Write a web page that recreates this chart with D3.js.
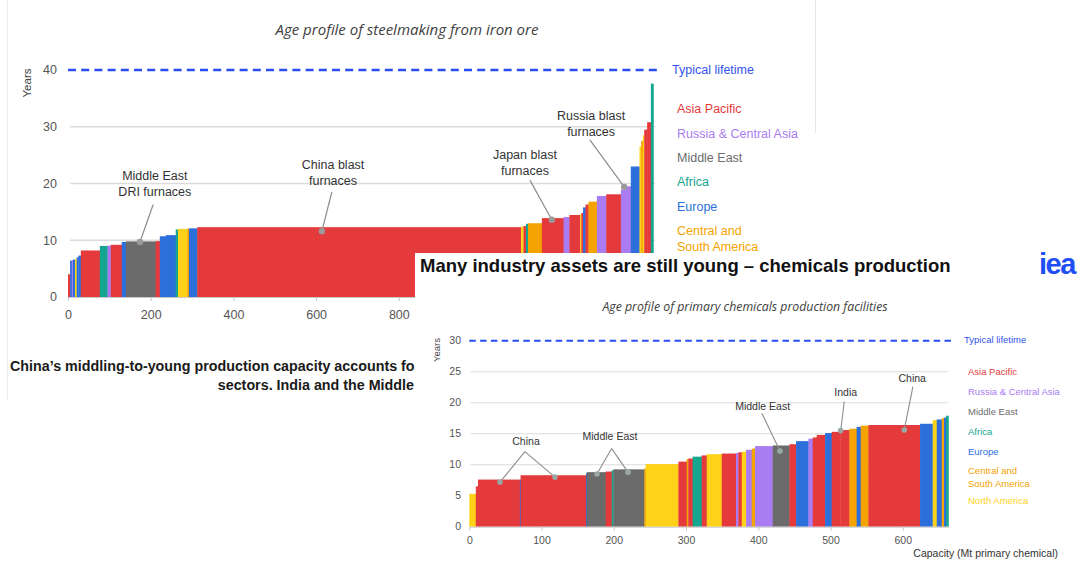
<!DOCTYPE html>
<html>
<head>
<meta charset="utf-8">
<script src="https://cdn.jsdelivr.net/npm/d3@7"></script>
<style>
  html, body { margin: 0; padding: 0; background: #ffffff; }
  svg { display: block; }
  text { font-family: "Liberation Sans", Arial, sans-serif; }
</style>
</head>
<body>
<svg id="page" width="1083" height="562"></svg>
<script>
// Regions shared by both age profiles
const regionNames = ["Asia Pacific", "Russia & Central Asia", "Middle East", "Africa", "Europe", "Central and South America", "North America"];
const regionColors = ["#e53a3c", "#a97cf2", "#6b6b6b", "#14a68e", "#2c6fdb", "#f5a300", "#ffd21a"];

// Steelmaking from iron ore: one entry per plant group, sorted by age
// region index, capacity (Mt), age (years)
const steelRegion = [0, 4, 1, 4, 6, 4, 4, 0, 3, 1, 0, 4, 2, 0, 4, 4, 3, 6, 5, 4, 0, 6, 0, 3, 5, 0, 1, 0, 6, 0, 4, 0, 5, 1, 0, 1, 1, 4, 6, 5, 6, 0, 0, 3];
const steelCapacity = [5, 4, 3, 5, 4, 4, 6, 46, 18.5, 8, 26.5, 10, 72, 10, 14.5, 24, 5.5, 22.5, 4, 20, 783, 6, 6, 5, 33.5, 52.5, 14, 26, 3, 4, 6, 7, 20.5, 22.5, 35.5, 12, 12, 21, 4, 4, 3.5, 7, 9, 6];
const steelAge = [4.0, 6.4, 6.5, 6.6, 6.7, 7.0, 7.3, 8.2, 9.0, 9.05, 9.2, 9.7, 9.8, 9.85, 10.7, 10.9, 11.9, 12.0, 12.05, 12.1, 12.3, 12.4, 12.5, 12.9, 13.0, 13.9, 14.1, 14.45, 14.6, 14.8, 15.8, 16.3, 16.8, 17.8, 18.1, 18.9, 19.5, 23.0, 26.5, 27.5, 28.5, 29.5, 30.8, 37.6];
const steelLifetime = 40;
const steelYTicks = [0, 10, 20, 30, 40];
const steelXTicks = [0, 200, 400, 600, 800];
const steelLegend = [0, 1, 2, 3, 4, 5];
// annotation: label lines, label anchor (capacity, age), leader start and labelled point
const steelNotes = [
  { lines: ["Middle East", "DRI furnaces"], at: [210, 21.3], from: [206, 16.3], to: [174, 9.7] },
  { lines: ["China blast", "furnaces"], at: [641, 23.3], from: [638, 18.5], to: [614, 11.6] },
  { lines: ["Japan blast", "furnaces"], at: [1105, 25.1], from: [1117, 20.6], to: [1170, 13.6] },
  { lines: ["Russia blast", "furnaces"], at: [1265, 31.9], from: [1262, 27.7], to: [1345, 19.4] }
];

// Primary chemicals production facilities, sorted by age
const chemRegion = [6, 0, 0, 4, 0, 4, 2, 0, 3, 2, 5, 6, 0, 5, 0, 3, 0, 6, 0, 1, 0, 6, 1, 5, 1, 2, 0, 4, 1, 0, 0, 4, 0, 0, 5, 4, 5, 0, 4, 6, 4, 5, 4, 3];
const chemCapacity = [9, 3, 58, 1, 90.5, 1, 26.3, 8.3, 2.3, 42.9, 1.8, 45.3, 11.5, 2.2, 6, 12.6, 6.9, 20.8, 19.7, 3.3, 4.7, 6, 7.8, 4.6, 24.5, 23.1, 9.2, 17.1, 5.9, 5.6, 11.5, 9.2, 12, 12.5, 10, 5.7, 10.6, 71.5, 17.5, 5.6, 6.9, 3.2, 2.8, 3.2];
const chemAge = [5.3, 6.5, 7.6, 7.6, 8.3, 8.6, 8.8, 8.9, 9.1, 9.25, 9.4, 10.1, 10.5, 10.9, 11.0, 11.3, 11.5, 11.7, 11.8, 11.9, 12.0, 12.1, 12.4, 12.6, 13.0, 13.1, 13.3, 13.8, 14.2, 14.4, 14.8, 15.1, 15.3, 15.6, 15.8, 16.1, 16.3, 16.4, 16.6, 17.2, 17.3, 17.5, 17.6, 17.9];
const chemLifetime = 30;
const chemYTicks = [0, 5, 10, 15, 20, 25, 30];
const chemXTicks = [0, 100, 200, 300, 400, 500, 600];
const chemLegend = [0, 1, 2, 3, 4, 5, 6];
const chemNotes = [
  { lines: ["China"], at: [78.5, 13.8], from: [77, 12.1], to: [[42.5, 7.2], [118.6, 8.0]] },
  { lines: ["Middle East"], at: [194.7, 14.6], from: [197, 12.6], to: [[176.7, 8.5], [219.7, 8.8]] },
  { lines: ["Middle East"], at: [406, 19.4], from: [405, 18.3], to: [[430, 12.2]] },
  { lines: ["India"], at: [521, 21.7], from: [519, 20.2], to: [[514, 15.5]] },
  { lines: ["China"], at: [613, 23.9], from: [614, 22.6], to: [[602, 15.6]] }
];

const svg = d3.select("#page");

function segments(regions, caps, ages) {
  const ends = d3.cumsum(caps);
  return caps.map((c, i) => ({ region: regions[i], x0: ends[i] - c, x1: ends[i], age: ages[i] }));
}

// ---------- Steel slide (background) ----------
const steel = svg.append("g");
steel.append("line").attr("x1", 7.5).attr("x2", 7.5).attr("y1", 0).attr("y2", 400)
  .attr("stroke", "#ececec").attr("stroke-width", 1);
steel.append("line").attr("x1", 815.5).attr("x2", 815.5).attr("y1", 0).attr("y2", 133)
  .attr("stroke", "#e6e6e6").attr("stroke-width", 1);

const sx = d3.scaleLinear().domain([0, 1420]).range([68, 655.2]);
const sy = d3.scaleLinear().domain([0, 40]).range([297, 70]);

steel.append("text").attr("x", 407).attr("y", 35).attr("text-anchor", "middle")
  .style("font-family", "'Open Sans', Lato, sans-serif").style("font-style", "italic")
  .style("font-size", "15px").attr("fill", "#404040")
  .text("Age profile of steelmaking from iron ore");

// gridlines
steel.append("g").selectAll("line").data(steelYTicks.filter(t => t > 0 && t < steelLifetime))
  .join("line")
  .attr("x1", sx(0) + 2).attr("x2", sx(1420)).attr("y1", d => sy(d)).attr("y2", d => sy(d))
  .attr("stroke", "#dcdcdc").attr("stroke-width", 1.3);

// y tick labels
steel.append("g").selectAll("text").data(steelYTicks).join("text")
  .attr("x", 57).attr("y", d => sy(d)).attr("dy", "0.35em").attr("text-anchor", "end")
  .style("font-size", "12.5px").attr("fill", "#555").text(d => d);

steel.append("text").attr("transform", `translate(31,${83}) rotate(-90)`)
  .attr("text-anchor", "middle").style("font-size", "11.5px").attr("fill", "#444").text("Years");

// step bars
steel.append("g").selectAll("rect").data(segments(steelRegion, steelCapacity, steelAge)).join("rect")
  .attr("x", d => sx(d.x0)).attr("width", d => Math.max(0.6, sx(d.x1) - sx(d.x0) + 0.4))
  .attr("y", d => sy(d.age)).attr("height", d => sy(0) - sy(d.age))
  .attr("fill", d => regionColors[d.region]);

// x axis
const sAxis = steel.append("g").attr("transform", `translate(0,${sy(0)})`)
  .call(d3.axisBottom(sx).tickValues(steelXTicks).tickSize(4).tickSizeOuter(0).tickPadding(9));
sAxis.select(".domain").attr("stroke", "#c8c8c8");
sAxis.selectAll(".tick line").attr("stroke", "#c8c8c8");
sAxis.selectAll(".tick text").style("font-size", "12.5px").attr("fill", "#555")
  .style("font-family", "'Liberation Sans', Arial, sans-serif");

// typical lifetime
steel.append("line").attr("x1", sx(0)).attr("x2", 658).attr("y1", sy(steelLifetime)).attr("y2", sy(steelLifetime))
  .attr("stroke", "#2a4df2").attr("stroke-width", 2.6).attr("stroke-dasharray", "8,5.2");
steel.append("text").attr("x", 672).attr("y", sy(steelLifetime)).attr("dy", "0.3em")
  .style("font-size", "12.5px").attr("fill", "#3354ee").text("Typical lifetime");

// annotations
const sNote = steel.append("g").selectAll("g").data(steelNotes).join("g");
sNote.append("line")
  .attr("x1", d => sx(d.from[0])).attr("y1", d => sy(d.from[1]))
  .attr("x2", d => sx(d.to[0])).attr("y2", d => sy(d.to[1]))
  .attr("stroke", "#8c8c8c").attr("stroke-width", 1.2);
sNote.append("circle").attr("cx", d => sx(d.to[0])).attr("cy", d => sy(d.to[1])).attr("r", 3.2)
  .attr("fill", "#9a9a9a");
sNote.each(function (d) {
  d3.select(this).selectAll("text").data(d.lines).join("text")
    .attr("x", sx(d.at[0])).attr("y", (l, i) => sy(d.at[1]) + i * 16).attr("dy", "0.35em")
    .attr("text-anchor", "middle").style("font-size", "12.5px").attr("fill", "#333").text(l => l);
});

// legend
const sLeg = steel.append("g").selectAll("text").data(steelLegend).join("text")
  .attr("x", 677).attr("y", (d, i) => 109 + i * 24.3).attr("dy", "0.35em")
  .style("font-size", "12.5px").attr("fill", d => regionColors[d]);
sLeg.each(function (d) {
  const t = d3.select(this);
  if (regionNames[d] === "Central and South America") {
    t.append("tspan").attr("x", 677).text("Central and");
    t.append("tspan").attr("x", 677).attr("dy", "16").text("South America");
  } else {
    t.text(regionNames[d]);
  }
});

// slide text below the steel chart
steel.append("text").attr("x", 10).attr("y", 371).style("font-size", "14.3px").style("font-weight", "bold")
  .attr("fill", "#1a1a1a").text("China\u2019s middling-to-young production capacity accounts fo");
steel.append("text").attr("x", 414).attr("y", 390).attr("text-anchor", "end").style("font-size", "14.3px")
  .style("font-weight", "bold").attr("fill", "#1a1a1a").text("sectors. India and the Middle");

// ---------- Chemicals slide (foreground) ----------
const chem = svg.append("g");
chem.append("rect").attr("x", 415).attr("y", 253).attr("width", 668).attr("height", 309).attr("fill", "#ffffff");

chem.append("text").attr("x", 420).attr("y", 272).style("font-size", "18.5px").style("font-weight", "bold")
  .attr("fill", "#111").text("Many industry assets are still young \u2013 chemicals production");
chem.append("text").attr("x", 1039).attr("y", 274).style("font-size", "29px").style("font-weight", "bold")
  .style("letter-spacing", "-1.5px").attr("fill", "#1d4ff5").text("iea");

const cx = d3.scaleLinear().domain([0, 663]).range([469.3, 948.3]);
const cy = d3.scaleLinear().domain([0, 30]).range([526.7, 340.7]);

chem.append("text").attr("x", 745).attr("y", 311).attr("text-anchor", "middle")
  .style("font-family", "'Open Sans', Lato, sans-serif").style("font-style", "italic")
  .style("font-size", "12.3px").attr("fill", "#404040")
  .text("Age profile of primary chemicals production facilities");

chem.append("g").selectAll("line").data(chemYTicks.filter(t => t > 0 && t < chemLifetime)).join("line")
  .attr("x1", cx(0) + 1).attr("x2", cx(663)).attr("y1", d => cy(d)).attr("y2", d => cy(d))
  .attr("stroke", "#dcdcdc").attr("stroke-width", 1.1);

chem.append("g").selectAll("text").data(chemYTicks).join("text")
  .attr("x", 461).attr("y", d => cy(d)).attr("dy", "0.35em").attr("text-anchor", "end")
  .style("font-size", "10.5px").attr("fill", "#555").text(d => d);

chem.append("text").attr("transform", `translate(440,350) rotate(-90)`).attr("text-anchor", "middle")
  .style("font-size", "9.5px").attr("fill", "#444").text("Years");

chem.append("g").selectAll("rect").data(segments(chemRegion, chemCapacity, chemAge)).join("rect")
  .attr("x", d => cx(d.x0)).attr("width", d => Math.max(0.6, cx(d.x1) - cx(d.x0) + 0.4))
  .attr("y", d => cy(d.age)).attr("height", d => cy(0) - cy(d.age))
  .attr("fill", d => regionColors[d.region]);

const cAxis = chem.append("g").attr("transform", `translate(0,${cy(0)})`)
  .call(d3.axisBottom(cx).tickValues(chemXTicks).tickSize(4).tickSizeOuter(0).tickPadding(6));
cAxis.select(".domain").attr("stroke", "#c8c8c8");
cAxis.selectAll(".tick line").attr("stroke", "#c8c8c8");
cAxis.selectAll(".tick text").style("font-size", "10.5px").attr("fill", "#555")
  .style("font-family", "'Liberation Sans', Arial, sans-serif");

chem.append("text").attr("x", 1058).attr("y", 557).attr("text-anchor", "end").style("font-size", "10.5px")
  .attr("fill", "#333").text("Capacity (Mt primary chemical)");

chem.append("line").attr("x1", cx(0)).attr("x2", 953).attr("y1", cy(chemLifetime)).attr("y2", cy(chemLifetime))
  .attr("stroke", "#2a4df2").attr("stroke-width", 2).attr("stroke-dasharray", "6.5,4.3");
chem.append("text").attr("x", 964).attr("y", cy(chemLifetime) - 1).attr("dy", "0.3em")
  .style("font-size", "9.5px").attr("fill", "#3354ee").text("Typical lifetime");

const cNote = chem.append("g").selectAll("g").data(chemNotes).join("g");
cNote.each(function (d) {
  const g = d3.select(this);
  g.selectAll("line").data(d.to).join("line")
    .attr("x1", cx(d.from[0])).attr("y1", cy(d.from[1]))
    .attr("x2", p => cx(p[0])).attr("y2", p => cy(p[1]))
    .attr("stroke", "#8c8c8c").attr("stroke-width", 1.1);
  g.selectAll("circle").data(d.to).join("circle")
    .attr("cx", p => cx(p[0])).attr("cy", p => cy(p[1])).attr("r", 2.8).attr("fill", "#9aa8a4");
  g.append("text").attr("x", cx(d.at[0])).attr("y", cy(d.at[1])).attr("dy", "0.35em")
    .attr("text-anchor", "middle").style("font-size", "10.5px").attr("fill", "#333").text(d.lines[0]);
});

const cLeg = chem.append("g").selectAll("text").data(chemLegend).join("text")
  .attr("x", 968).attr("y", (d, i) => 372 + i * 19.8 + (i === 6 ? 10 : 0)).attr("dy", "0.35em")
  .style("font-size", "9.5px").attr("fill", d => regionColors[d]);
cLeg.each(function (d) {
  const t = d3.select(this);
  if (regionNames[d] === "Central and South America") {
    t.append("tspan").attr("x", 968).text("Central and");
    t.append("tspan").attr("x", 968).attr("dy", "13").text("South America");
  } else {
    t.text(regionNames[d]);
  }
});
</script>
</body>
</html>
